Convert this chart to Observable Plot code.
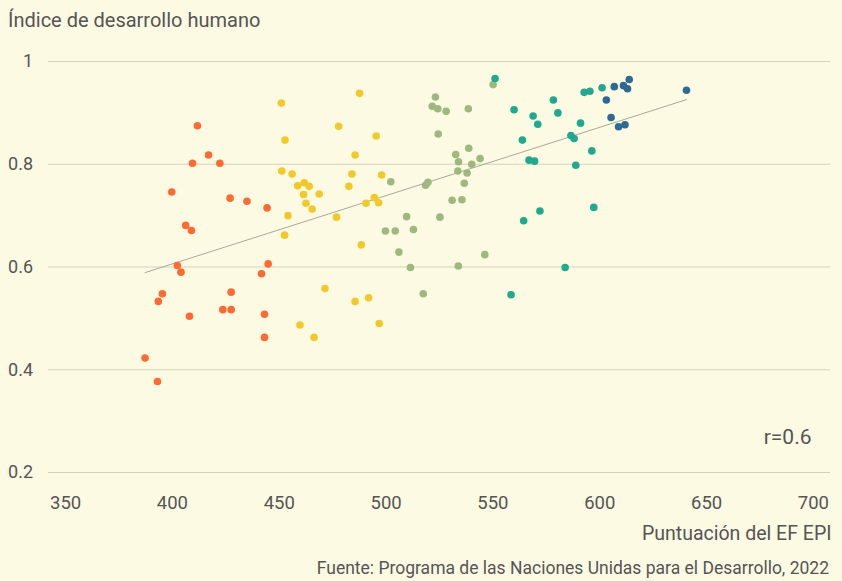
<!DOCTYPE html>
<html>
<head>
<meta charset="utf-8">
<script src="https://cdn.jsdelivr.net/npm/d3@7"></script>
<script src="https://cdn.jsdelivr.net/npm/@observablehq/plot@0.6"></script>
<style>
  html, body { margin: 0; padding: 0; background: #fdfae4; }
  body { width: 842px; height: 581px; overflow: hidden; font-family: Roboto, "Noto Sans", sans-serif; color: #555; }
  #title { height: 40px; box-sizing: border-box; padding: 8px 0 0 8px; font-size: 20px; line-height: 24px; color: #555; }
  #chart { height: 520px; }
  #source { text-align: right; padding-right: 13px; font-size: 17.5px; line-height: 20px; color: #555; margin-top: -2px; }
</style>
</head>
<body>
<div id="title">Índice de desarrollo humano</div>
<div id="chart"></div>
<div id="source">Fuente: Programa de las Naciones Unidas para el Desarrollo, 2022</div>
<script>
// EF EPI score (x) and Human Development Index (y), grouped by colour band
const bandAX = [387.2,393.0,393.4,395.3,399.7,402.3,404.0,406.2,408.0,408.9,409.4,411.7,416.9,422.2,423.6,427.0,427.5,427.5,434.9,441.7,443.1,443.1,444.3,444.8];
const bandAY = [0.423,0.377,0.533,0.548,0.746,0.603,0.590,0.681,0.504,0.671,0.802,0.875,0.818,0.802,0.517,0.734,0.551,0.517,0.728,0.587,0.508,0.463,0.715,0.606];

const bandBX = [451.0,451.2,452.5,452.7,454.1,456.0,458.6,459.7,461.4,461.7,462.5,464.0,465.4,466.3,468.7,471.4,476.8,477.8,482.6,484.0,485.5,485.5,487.6,488.4,490.6,491.8,494.5,495.4,496.5,496.8,497.9];
const bandBY = [0.919,0.787,0.662,0.847,0.700,0.781,0.758,0.487,0.741,0.764,0.724,0.757,0.713,0.463,0.742,0.558,0.697,0.874,0.757,0.781,0.818,0.533,0.938,0.643,0.724,0.540,0.735,0.855,0.725,0.490,0.779];

const bandCX = [499.7,502.2,504.3,506.0,509.6,511.4,512.8,517.4,518.5,519.6,521.6,523.1,524.2,524.4,525.2,528.1,530.9,532.6,533.6,533.8,533.9,535.5,536.6,537.9,538.5,538.7,540.1,544.0,546.2,550.1];
const bandCY = [0.670,0.766,0.670,0.629,0.698,0.599,0.673,0.548,0.759,0.765,0.913,0.931,0.908,0.859,0.697,0.903,0.730,0.819,0.787,0.602,0.805,0.731,0.763,0.783,0.908,0.831,0.800,0.811,0.624,0.955];

const bandDX = [551.0,558.5,559.9,563.8,564.4,566.9,568.8,569.5,571.0,572.0,578.3,580.4,583.8,586.5,588.0,588.8,591.0,592.7,595.4,596.3,597.2,601.1];
const bandDY = [0.967,0.546,0.906,0.847,0.690,0.808,0.894,0.806,0.878,0.709,0.925,0.900,0.599,0.856,0.850,0.798,0.880,0.940,0.942,0.826,0.716,0.949];

const bandEX = [603.1,605.3,606.8,608.8,611.1,611.8,613.0,613.8,640.6];
const bandEY = [0.925,0.891,0.951,0.873,0.953,0.877,0.947,0.965,0.944];

const bandNames = ["A","B","C","D","E"];
const bandColors = ["#fd6a32","#f2c92b","#9eb97d","#1fa98e","#2d6a94"];
const xTicks = [350,400,450,500,550,600,650,700];
const yTicks = [0.2,0.4,0.6,0.8,1];
const xTitle = ["Puntuación del EF EPI"];
const rLabel = ["r=0.6"];

const bands = [[bandAX,bandAY],[bandBX,bandBY],[bandCX,bandCY],[bandDX,bandDY],[bandEX,bandEY]];
const data = bands.flatMap(([xs, ys], g) => xs.map((x, i) => ({x, y: ys[i], band: bandNames[g]})));

const chart = Plot.plot({
  width: 842,
  height: 520,
  marginLeft: 48,
  marginRight: 12,
  marginTop: 21,
  marginBottom: 88,
  style: { background: "transparent", fontFamily: "Roboto, 'Noto Sans', sans-serif", fontSize: "18px", color: "#555" },
  x: { domain: [342, 708] },
  y: { domain: [0.2, 1] },
  color: { domain: bandNames, range: bandColors },
  marks: [
    Plot.gridY(yTicks, { stroke: "#d3d1bd", strokeOpacity: 1, strokeWidth: 1.2 }),
    Plot.axisY(yTicks, { tickSize: 0, tickPadding: 15.5, label: null, fill: "#555", fontSize: 18, tickFormat: d => String(d) }),
    Plot.axisX(xTicks, { tickSize: 0, tickPadding: 23, fill: "#555", fontSize: 18.5, label: null, tickFormat: d => String(d) }),
    Plot.text(xTitle, { text: d => d, frameAnchor: "bottom-right", textAnchor: "end", dx: 1, dy: 67, fontSize: 19.5, fill: "#555" }),
    Plot.linearRegressionY(data, { x: "x", y: "y", ci: 0, stroke: "#a9a89a", strokeWidth: 1 }),
    Plot.dot(data, { x: "x", y: "y", fill: "band", r: 3.8, stroke: "none" }),
    Plot.text(rLabel, { text: d => d, frameAnchor: "bottom-right", textAnchor: "end", dx: -19, dy: -29, fontSize: 21, fill: "#555" })
  ]
});
document.getElementById("chart").appendChild(chart);
</script>
</body>
</html>
